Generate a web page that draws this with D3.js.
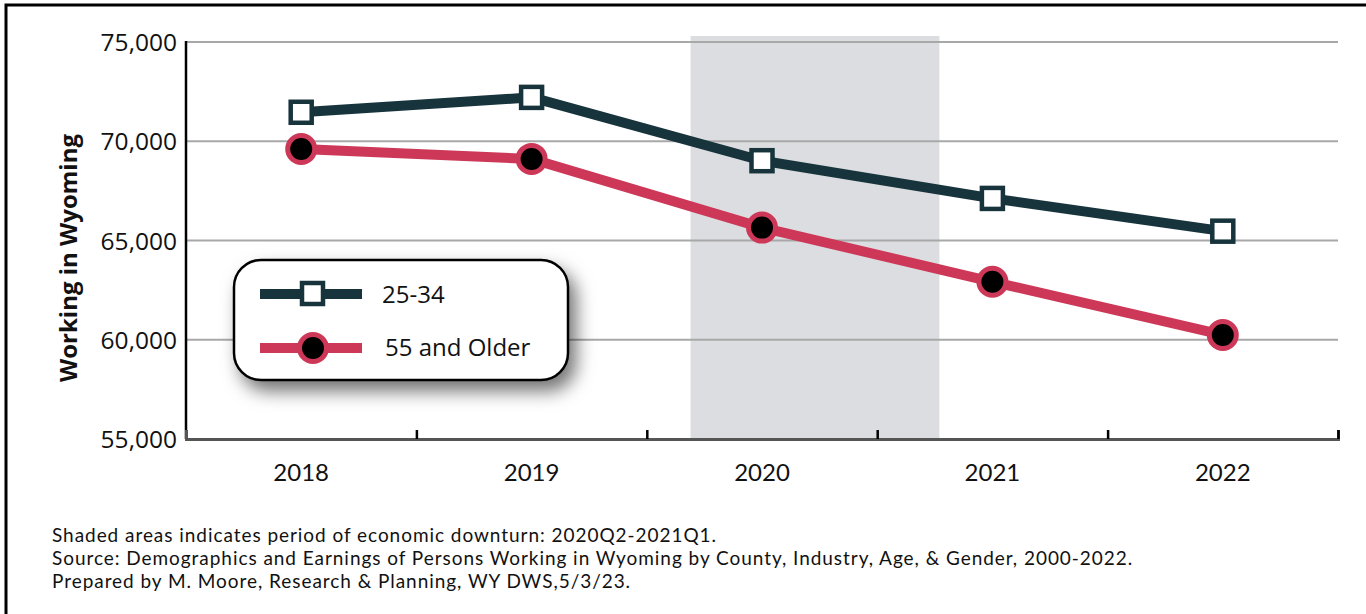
<!DOCTYPE html>
<html>
<head>
<meta charset="utf-8">
<script src="https://cdn.jsdelivr.net/npm/d3@7"></script>
<style>
  body { margin: 0; background: #fff; }
  svg { display: block; }
</style>
</head>
<body>
<svg></svg>
<script>
const years = [2018, 2019, 2020, 2021, 2022];
const young = [71460, 72210, 69020, 67120, 65470];
const older = [69610, 69110, 65650, 62920, 60240];
const seriesNames = ["25-34", "55 and Older"];
const yTicks = [55000, 60000, 65000, 70000, 75000];
// downturn shading in year units
const shadeYears = [2019.69, 2020.77];
const shadeTop = 75300;
const notes = [
  "Shaded areas indicates period of economic downturn: 2020Q2-2021Q1.",
  "Source: Demographics and Earnings of Persons Working in Wyoming by County, Industry, Age, & Gender, 2000-2022.",
  "Prepared by M. Moore, Research & Planning, WY DWS,5/3/23."
];

const width = 1366;
const height = 614;
const plotLeft = 186, plotRight = 1338, plotTop = 42, plotBottom = 439;
const dark = "#17343d";
const red = "#cd3858";

const svg = d3.select("svg").attr("width", width).attr("height", height);

const defs = svg.append("defs");
const shadow = defs.append("filter").attr("id", "shadow")
  .attr("x", "-20%").attr("y", "-20%").attr("width", "150%").attr("height", "170%");
shadow.append("feDropShadow")
  .attr("dx", 7).attr("dy", 10).attr("stdDeviation", 9)
  .attr("flood-color", "#000").attr("flood-opacity", 0.55);

// outer frame (right and bottom edges fall outside the picture)
svg.append("rect")
  .attr("x", 6).attr("y", 5).attr("width", 1400).attr("height", 700)
  .attr("fill", "none").attr("stroke", "#000").attr("stroke-width", 3);

const x = d3.scaleLinear().domain([2017.5, 2022.5]).range([plotLeft, plotRight]);
const y = d3.scaleLinear().domain([55000, 75000]).range([plotBottom, plotTop]);

// shaded downturn
svg.append("rect")
  .attr("x", x(shadeYears[0]))
  .attr("y", y(shadeTop))
  .attr("width", x(shadeYears[1]) - x(shadeYears[0]))
  .attr("height", y(55000) - y(shadeTop))
  .attr("fill", "#dcdde0");

// gridlines
svg.append("g").selectAll("line")
  .data(yTicks.slice(1))
  .enter().append("line")
  .attr("x1", plotLeft).attr("x2", plotRight)
  .attr("y1", (d) => y(d)).attr("y2", (d) => y(d))
  .attr("stroke", "#a8a8a8").attr("stroke-width", 2);

// y tick labels
svg.append("g").selectAll("text")
  .data(yTicks)
  .enter().append("text")
  .attr("x", plotLeft - 9)
  .attr("y", (d) => y(d) + 9)
  .attr("text-anchor", "end")
  .style("font-family", "'Open Sans', sans-serif")
  .style("font-size", "24.5px")
  .attr("fill", "#111")
  .text((d) => d3.format(",")(d));

// y axis line
svg.append("line")
  .attr("x1", plotLeft).attr("x2", plotLeft)
  .attr("y1", y(75000) - 1).attr("y2", plotBottom)
  .attr("stroke", "#000").attr("stroke-width", 2.5);

// x axis with inward ticks between categories
const xAxis = d3.axisBottom(x)
  .tickValues([2018.5, 2019.5, 2020.5, 2021.5, 2022.5])
  .tickSize(-9)
  .tickFormat("");
const gx = svg.append("g")
  .attr("transform", "translate(0," + plotBottom + ")")
  .call(xAxis);
gx.select(".domain").attr("stroke", "#555").attr("stroke-width", 3);
gx.selectAll(".tick line").attr("stroke", "#000").attr("stroke-width", 2.5);

svg.append("g").selectAll("text")
  .data(years)
  .enter().append("text")
  .attr("x", (d) => x(d))
  .attr("y", 481)
  .attr("text-anchor", "middle")
  .style("font-family", "Lato, sans-serif")
  .style("font-size", "24px")
  .attr("fill", "#111")
  .text((d) => d);

// y title
svg.append("text")
  .attr("transform", "translate(77,258) rotate(-90)")
  .attr("text-anchor", "middle")
  .style("font-family", "'Open Sans', sans-serif")
  .style("font-weight", "bold")
  .style("font-size", "24px")
  .attr("fill", "#111")
  .text("Working in Wyoming");

// lines
const line = d3.line()
  .x((d, i) => x(years[i]))
  .y((d) => y(d));

svg.append("path").datum(young).attr("d", line)
  .attr("fill", "none").attr("stroke", dark).attr("stroke-width", 10);
svg.append("path").datum(older).attr("d", line)
  .attr("fill", "none").attr("stroke", red).attr("stroke-width", 10);

svg.append("g").selectAll("rect")
  .data(young)
  .enter().append("rect")
  .attr("x", (d, i) => x(years[i]) - 10.5)
  .attr("y", (d) => y(d) - 10.5)
  .attr("width", 21).attr("height", 21)
  .attr("fill", "#fff").attr("stroke", dark).attr("stroke-width", 4.5);

svg.append("g").selectAll("circle")
  .data(older)
  .enter().append("circle")
  .attr("cx", (d, i) => x(years[i]))
  .attr("cy", (d) => y(d))
  .attr("r", 13.5)
  .attr("fill", "#000").attr("stroke", red).attr("stroke-width", 5);

// legend
const legend = svg.append("g");
legend.append("rect")
  .attr("x", 234).attr("y", 260).attr("width", 334).attr("height", 120)
  .attr("rx", 27).attr("ry", 27)
  .attr("fill", "#fff").attr("stroke", "#000").attr("stroke-width", 2.5)
  .attr("filter", "url(#shadow)");

legend.append("line")
  .attr("x1", 260).attr("x2", 362).attr("y1", 294).attr("y2", 294)
  .attr("stroke", dark).attr("stroke-width", 10);
legend.append("rect")
  .attr("x", 302).attr("y", 283).attr("width", 21).attr("height", 21)
  .attr("fill", "#fff").attr("stroke", dark).attr("stroke-width", 4.5);
legend.append("line")
  .attr("x1", 260).attr("x2", 362).attr("y1", 348).attr("y2", 348)
  .attr("stroke", red).attr("stroke-width", 10);
legend.append("circle")
  .attr("cx", 313).attr("cy", 348).attr("r", 13.5)
  .attr("fill", "#000").attr("stroke", red).attr("stroke-width", 5);

legend.selectAll(".lab")
  .data(seriesNames)
  .enter().append("text")
  .attr("x", (d, i) => (i === 0 ? 382 : 385))
  .attr("y", (d, i) => (i === 0 ? 303 : 356))
  .style("font-family", "'Open Sans', sans-serif")
  .style("font-size", "24px")
  .attr("fill", "#111")
  .text((d) => d);

// footnotes
svg.append("g").selectAll("text")
  .data(notes)
  .enter().append("text")
  .attr("x", 52)
  .attr("y", (d, i) => 542 + i * 23)
  .style("font-family", "Lato, sans-serif")
  .style("font-size", "19px")
  .style("letter-spacing", "0.95px")
  .attr("fill", "#111")
  .text((d) => d);
</script>
</body>
</html>
